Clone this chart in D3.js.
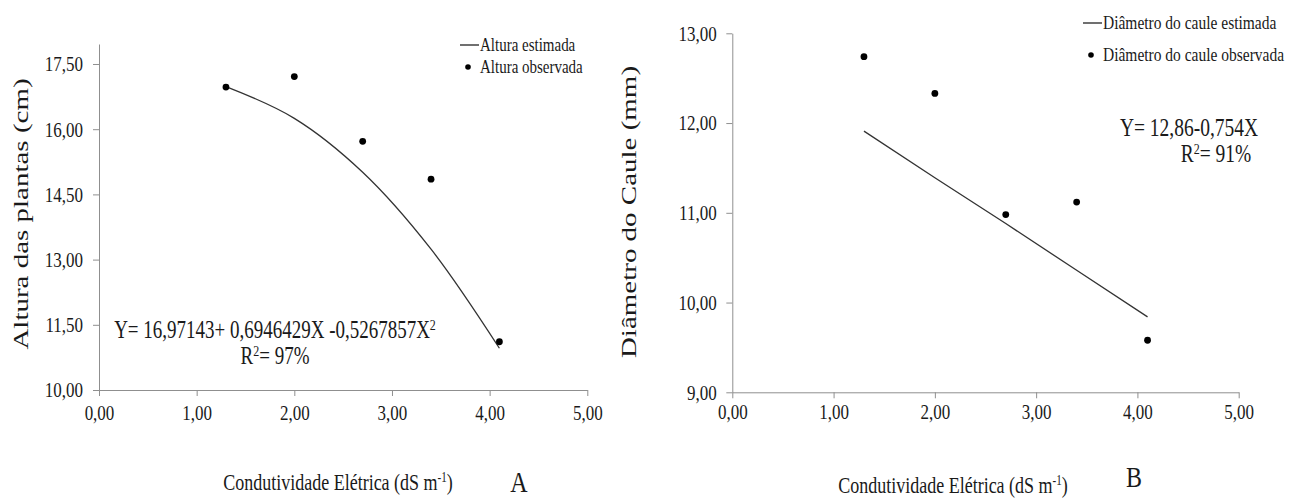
<!DOCTYPE html>
<html>
<head>
<meta charset="utf-8">
<script src="https://cdn.jsdelivr.net/npm/d3@7"></script>
<style>
  body { margin: 0; background: #fff; }
  svg text { font-family: "Liberation Serif", "Times New Roman", serif; fill: #1a1a1a; }
</style>
</head>
<body>
<svg id="chart" width="1291" height="499"></svg>
<script>
// data
const ecLevels = [1.3, 2.0, 2.7, 3.4, 4.1]
const alturaObs = [16.97, 17.21, 15.72, 14.85, 11.11]
const alturaEst = [16.98, 16.25, 15.01, 13.24, 10.96]
const diametroObs = [12.74, 12.33, 10.98, 11.12, 9.58]
const diametroEst = [11.91, 11.39, 10.88, 10.36, 9.84]

const xTicks = [0, 1, 2, 3, 4, 5]
const alturaTicks = [10, 11.5, 13, 14.5, 16, 17.5]
const diametroTicks = [9, 10, 11, 12, 13]

// the original picture is stretched vertically, text too
const K = 1.27
const fmt = v => d3.format('.2f')(v).replace('.', ',')

const svg = d3.select('#chart')

function label(parent, x, y, size) {
  const g = parent.append('g')
    .attr('transform', `translate(${x},${y})`)
  return g.append('text')
    .attr('font-size', size * K)
    .attr('transform', `scale(${1 / K},1)`)
}

// rotated title: long along the text, thin across it
function vlabel(parent, x, y, along, across) {
  const g = parent.append('g')
    .attr('transform', `translate(${x},${y}) rotate(-90)`)
  return g.append('text')
    .attr('font-size', along)
    .attr('transform', `scale(1,${across / along})`)
}

function panel(opt) {
  const x = d3.scaleLinear().domain([0, 5]).range(opt.xRange)
  const y = d3.scaleLinear().domain(opt.yDomain).range(opt.yRange)

  const axisX = d3.axisBottom(x)
    .tickValues(xTicks)
    .tickFormat(fmt)
    .tickSize(6)
    .tickSizeOuter(0)
    .tickPadding(opt.xPad)

  const axisY = d3.axisLeft(y)
    .tickValues(opt.yTicks)
    .tickFormat(fmt)
    .tickSize(6)
    .tickSizeOuter(0)

  const gx = svg.append('g')
    .attr('transform', `translate(0,${opt.yRange[0]})`)
    .call(axisX)
  const gy = svg.append('g')
    .attr('transform', `translate(${opt.xRange[0]},0)`)
    .call(axisY)

  for (const g of [gx, gy]) {
    g.select('.domain').attr('stroke', '#8f8f8f')
    g.selectAll('.tick line').attr('stroke', '#8f8f8f')
    g.selectAll('.tick text')
      .attr('font-family', '"Liberation Serif", serif')
      .attr('font-size', 17 * K)
      .attr('fill', '#1a1a1a')
      .attr('transform', `scale(${1 / K},1)`)
  }
  gy.selectAll('.tick text').attr('x', -opt.yLabGap * K)
  gx.selectAll('.tick text').attr('x', 0)

  // estimated line
  const pts = ecLevels.map((d, i) => [x(d), y(opt.est[i])])
  svg.append('path')
    .attr('d', d3.line().curve(opt.smooth ? d3.curveCatmullRom : d3.curveLinear)(pts))
    .attr('fill', 'none')
    .attr('stroke', '#333')
    .attr('stroke-width', 1.3)

  // observed points
  svg.selectAll(null)
    .data(ecLevels)
    .enter()
    .append('circle')
    .attr('cx', d => x(d))
    .attr('cy', (d, i) => y(opt.obs[i]))
    .attr('r', 3.4)
    .attr('fill', '#000')

  // legend
  svg.append('line')
    .attr('x1', opt.legend[0]).attr('x2', opt.legend[0] + 19)
    .attr('y1', opt.legend[1]).attr('y2', opt.legend[1])
    .attr('stroke', '#222').attr('stroke-width', 1.3)
  label(svg, opt.legend[0] + 20, opt.legend[1] + 6, opt.legendSize)
    .text(opt.legendText[0])
  svg.append('circle')
    .attr('cx', opt.legend[0] + 8)
    .attr('cy', opt.legend[1] + opt.legendGap)
    .attr('r', 2.8)
    .attr('fill', '#000')
  label(svg, opt.legend[0] + 20, opt.legend[1] + opt.legendGap + 6, opt.legendSize)
    .text(opt.legendText[1])

  // axis titles
  vlabel(svg, opt.yTitle[0], opt.yTitle[1], 29, 20)
    .attr('text-anchor', 'middle')
    .text(opt.yTitleText)

  const xt = label(svg, opt.xTitle[0], opt.xTitle[1], 18)
    .attr('text-anchor', 'middle')
  xt.append('tspan').text('Condutividade Elétrica (dS m')
  xt.append('tspan').attr('font-size', 11 * K).attr('dy', -8).text('-1')
  xt.append('tspan').attr('dy', 8).text(')')

  label(svg, opt.letter[0], opt.letter[1], 24)
    .attr('text-anchor', 'middle')
    .text(opt.letterText)
}

panel({
  xRange: [99, 587.3],
  yDomain: [10, 17.96],
  yRange: [390, 44],
  yTicks: alturaTicks,
  xPad: 9,
  yLabGap: 16,
  est: alturaEst,
  obs: alturaObs,
  smooth: true,
  legend: [460, 45],
  legendGap: 22,
  legendSize: 15,
  legendText: ['Altura estimada', 'Altura observada'],
  yTitle: [28, 214],
  yTitleText: 'Altura das plantas (cm)',
  xTitle: [338, 490],
  letter: [519, 492],
  letterText: 'A'
})

panel({
  xRange: [732.3, 1238.7],
  yDomain: [9, 13],
  yRange: [392.3, 33.3],
  yTicks: diametroTicks,
  xPad: 5,
  yLabGap: 15.6,
  est: diametroEst,
  obs: diametroObs,
  smooth: false,
  legend: [1083, 23],
  legendGap: 32,
  legendSize: 15.5,
  legendText: ['Diâmetro do caule estimada', 'Diâmetro do caule observada'],
  yTitle: [636, 212],
  yTitleText: 'Diâmetro do Caule (mm)',
  xTitle: [953, 493],
  letter: [1134, 487],
  letterText: 'B'
})

// regression equations
const eqA = label(svg, 275, 338, 19).attr('text-anchor', 'middle')
eqA.append('tspan').text('Y= 16,97143+ 0,6946429X -0,5267857X')
eqA.append('tspan').attr('font-size', 12 * K).attr('dy', -8).text('2')
const r2A = label(svg, 275, 364, 19).attr('text-anchor', 'middle')
r2A.append('tspan').text('R')
r2A.append('tspan').attr('font-size', 12 * K).attr('dy', -8).text('2')
r2A.append('tspan').attr('dy', 8).text('= 97%')

label(svg, 1189, 136, 19.5).attr('text-anchor', 'middle')
  .text('Y= 12,86-0,754X')
const r2B = label(svg, 1216, 162, 19.5).attr('text-anchor', 'middle')
r2B.append('tspan').text('R')
r2B.append('tspan').attr('font-size', 12 * K).attr('dy', -8).text('2')
r2B.append('tspan').attr('dy', 8).text('= 91%')
</script>
</body>
</html>
